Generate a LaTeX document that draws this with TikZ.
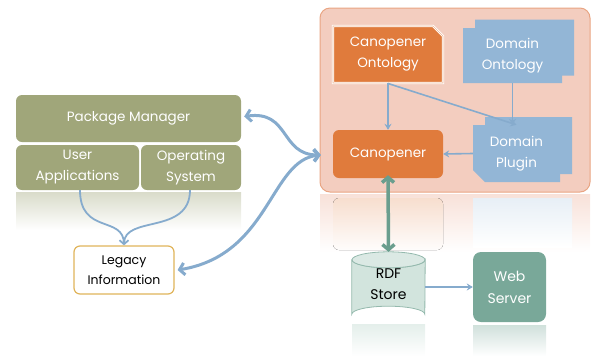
\documentclass[tikz,border=0pt]{standalone}
\usepackage{fontspec}
\setmainfont{Poppins}
\usetikzlibrary{arrows.meta,shapes.misc,shapes.geometric}
\definecolor{olive}{HTML}{A0A67A}
\definecolor{peach}{HTML}{F3CDBF}
\definecolor{peachline}{HTML}{E9A583}
\definecolor{orng}{HTML}{E07B3C}
\definecolor{blu}{HTML}{93B6D6}
\definecolor{bluline}{HTML}{86ABCD}
\definecolor{tealc}{HTML}{79A899}
\definecolor{tealline}{HTML}{6A9E8E}
\definecolor{rdffill}{HTML}{D2E4DD}
\definecolor{goldline}{HTML}{E0B45A}
\tikzset{
  lbl/.style={font=\fontsize{13.5}{21}\selectfont, align=center, inner sep=0pt},
  oliveblk/.style={lbl, fill=olive, rounded corners=6pt, text=white},
  orangeblk/.style={lbl, fill=orng, text=white, minimum width=110pt},
  blueblk/.style={lbl, fill=blu, chamfered rectangle, chamfered rectangle xsep=6pt, chamfered rectangle ysep=6pt, text=white},
  thinarrow/.style={draw=bluline, line width=1.6pt, -{Stealth[length=6pt,width=7pt]}},
  thickarrow/.style={draw=bluline, line width=3pt, {Straight Barb[length=5pt,width=12pt]}-{Straight Barb[length=5pt,width=12pt]}},
  feedline/.style={draw=bluline, line width=1.8pt},
}
\begin{document}
\begin{tikzpicture}[x=1pt,y=-1pt]
\useasboundingbox (0,0) rectangle (592,360);
% container reflection
\fill[top color=peach!60, bottom color=white] (320,194) rectangle (590,252);
\draw[fill=peach, draw=peachline, line width=1pt, rounded corners=10pt] (320,8) rectangle (590,192);
% reflections
\fill[top color=olive!40, bottom color=white] (16,192) rectangle (241,230);
\fill[top color=orng!25, bottom color=peach!5, rounded corners=6pt] (333,198) rectangle (443,250);
\fill[top color=blu!22, bottom color=white] (473,198) rectangle (572,247);
\fill[top color=rdffill!60, bottom color=white] (352,324) rectangle (425,356);
\fill[top color=tealc!35, bottom color=white] (473,325) rectangle (546,356);

% left group
\node[oliveblk, minimum width=225pt, minimum height=47pt] (pm) at (128.5,118.5) {Package Manager};
\node[oliveblk, minimum width=123pt, minimum height=45pt] (ua) at (77.5,167.5) {User\\Applications};
\node[oliveblk, minimum width=100pt, minimum height=45pt] (os) at (191,167.5) {Operating\\System};
\node[lbl, draw=goldline, line width=1.2pt, fill=white, rounded corners=6pt, minimum width=100pt, minimum height=48pt, font=\fontsize{12.5}{20}\selectfont] (leg) at (124,270) {Legacy\\Information};

% container contents
\node[orangeblk, chamfered rectangle, chamfered rectangle corners=north east, chamfered rectangle xsep=5pt, chamfered rectangle ysep=5pt, minimum height=57pt, draw=white, double=orng!55!white, double distance=0.6pt, line width=0.9pt] (co) at (388,54.5) {Canopener\\Ontology};
\node[blueblk, chamfered rectangle corners=north east, minimum width=99pt, minimum height=56pt] (dob) at (524.5,47.5) {};
\node[blueblk, chamfered rectangle corners=north east, minimum width=99pt, minimum height=55pt] (dof) at (512.5,55.5) {Domain\\Ontology};
\node[orangeblk, rounded corners=6pt, minimum height=48pt] (cano) at (388,154) {Canopener};
\node[blueblk, chamfered rectangle corners=north east, minimum width=87pt, minimum height=57pt] (dpb) at (528.5,145.5) {};
\node[blueblk, chamfered rectangle corners=south west, minimum width=87pt, minimum height=57pt] (dpf) at (516.5,153.5) {Domain\\Plugin};

% store & web server
\node[minimum width=73pt, minimum height=70pt, inner sep=0pt] (rdf) at (388.5,287) {};
\draw[fill=rdffill, draw=tealc!80, line width=0.8pt]
  ([yshift=-8pt]rdf.north west) -- ([yshift=8pt]rdf.south west)
  arc[start angle=180, end angle=360, x radius=36.5pt, y radius=-8pt]
  -- ([yshift=-8pt]rdf.north east)
  arc[start angle=0, end angle=180, x radius=36.5pt, y radius=-8pt] -- cycle;
\draw[draw=tealc!80, line width=0.8pt, fill=rdffill!80] ([yshift=-8pt]rdf.north) ellipse[x radius=36.5pt, y radius=8pt];
\node[lbl, font=\fontsize{14}{21}\selectfont, text=black] (rdft) at ([yshift=3pt]rdf.center) {RDF\\Store};
\node[lbl, fill=tealc, rounded corners=8pt, minimum width=73pt, minimum height=70pt, text=white, font=\fontsize{14}{22}\selectfont] (web) at (509.5,287) {Web\\Server};

% arrows inside container
\draw[thinarrow] (co.south) -- (cano.north);
\draw[thinarrow] (co.south) -- (dpf.north);
\draw[thinarrow] (dof.south) -- (dof.south |- dpf.north);
\draw[thinarrow] (dpf.west) -- (cano.east);
\draw[thinarrow] (rdf.east) -- (web.west);

% legacy feed lines
\draw[feedline] (80,190) .. controls (80,235) and (124,215) .. (124,244);
\draw[feedline, -{Straight Barb[length=4pt,width=9pt]}] (190,190) .. controls (190,235) and (124,215) .. (leg.north);

% thick curved arrows
\coordinate (cw) at ([xshift=-12pt,yshift=-1pt]cano.west);
\draw[thickarrow] ([xshift=3pt,yshift=2pt]pm.east) .. controls (290,110) and (280,155) .. (cw);
\draw[thickarrow] (cw) .. controls (270,160) and (270,255) .. ([xshift=3pt]leg.east);
\draw[draw=tealline, line width=3.5pt, {Straight Barb[length=5pt,width=12pt]}-{Straight Barb[length=5pt,width=12pt]}] ([yshift=3pt]cano.south) -- (rdf.north);
\end{tikzpicture}
\end{document}
